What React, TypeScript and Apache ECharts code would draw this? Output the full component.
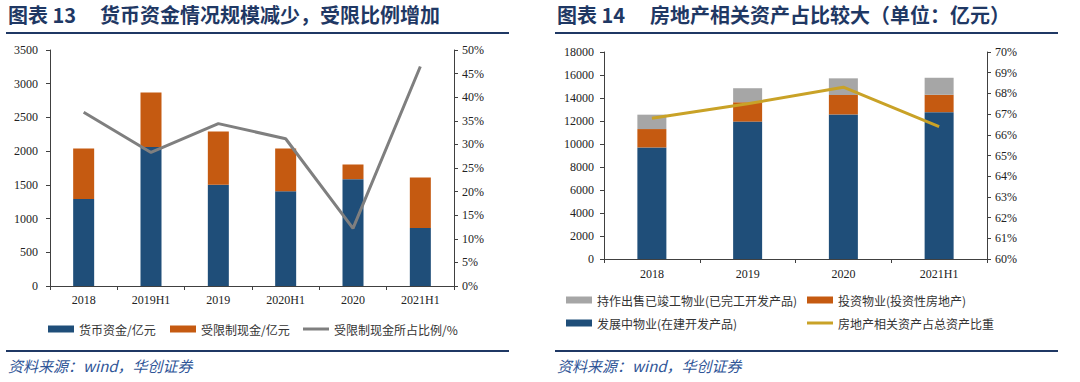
import React, { useEffect, useRef } from "react";
import * as echarts from "echarts";

const leftCategories = ["2018", "2019H1", "2019", "2020H1", "2020", "2021H1"];
const cashFunds = [1290, 2060, 1500, 1405, 1585, 860];
const restrictedCash = [750, 810, 790, 635, 217, 749];
const restrictedRatio = [36.8, 28.3, 34.4, 31.2, 12.2, 46.5];

const rightCategories = ["2018", "2019", "2020", "2021H1"];
const underDevelopment = [9700, 11950, 12570, 12770];
const investmentProperty = [1600, 1680, 1690, 1510];
const completedForSale = [1250, 1220, 1450, 1480];
const realEstateShare = [66.8, 67.5, 68.3, 66.4];

const BLUE = "#1F4E79";
const ORANGE = "#C55A11";
const GREY = "#A6A6A6";
const LINE_GREY = "#7F7F7F";
const GOLD = "#C9A227";
const NAVY = "#1F3864";

const serif = "'Liberation Serif', 'Times New Roman', serif";
const cjk = "'Noto Sans CJK SC', 'Liberation Serif', serif";

export default function App() {
  const ref = useRef<HTMLDivElement>(null);
  useEffect(() => {
    if (!ref.current) return;
    const chart = echarts.init(ref.current, undefined, { renderer: "svg" });
    const axisLine = { show: true, lineStyle: { color: "#404040", width: 1 } };
    const axisTick = { show: true, length: 4, lineStyle: { color: "#404040" } };
    const axisLabel = { color: "#222", fontFamily: serif, fontSize: 12 };
    const plain = (v: number) => String(v);
    const legendText = { color: "#333", fontFamily: cjk, fontSize: 12 };
    const mkLegend = (name: string, left: number, top: number, isLine = false) => ({
      data: [name],
      left,
      top,
      orient: "horizontal",
      itemWidth: 26,
      itemHeight: isLine ? 3 : 7,
      itemGap: 5,
      icon: "rect",
      textStyle: legendText,
      padding: 0,
    });
    chart.setOption({
      animation: false,
      grid: [
        { left: 50, right: 626, top: 50, bottom: 96 },
        { left: 604, right: 93, top: 52, bottom: 123 },
      ],
      xAxis: [
        {
          type: "category",
          gridIndex: 0,
          data: leftCategories,
          axisLine,
          axisTick,
          axisLabel: { ...axisLabel, margin: 8 },
        },
        {
          type: "category",
          gridIndex: 1,
          data: rightCategories,
          axisLine,
          axisTick,
          axisLabel: { ...axisLabel, margin: 9 },
        },
      ],
      yAxis: [
        {
          type: "value",
          gridIndex: 0,
          min: 0,
          max: 3500,
          interval: 500,
          axisLine,
          axisTick,
          axisLabel: { ...axisLabel, margin: 12, formatter: plain },
          splitLine: { show: false },
        },
        {
          type: "value",
          gridIndex: 0,
          position: "right",
          min: 0,
          max: 50,
          interval: 5,
          axisLine,
          axisTick,
          axisLabel: { ...axisLabel, margin: 8, formatter: "{value}%" },
          splitLine: { show: false },
        },
        {
          type: "value",
          gridIndex: 1,
          min: 0,
          max: 18000,
          interval: 2000,
          axisLine,
          axisTick,
          axisLabel: { ...axisLabel, margin: 10, formatter: plain },
          splitLine: { show: false },
        },
        {
          type: "value",
          gridIndex: 1,
          position: "right",
          min: 60,
          max: 70,
          interval: 1,
          axisLine,
          axisTick,
          axisLabel: { ...axisLabel, margin: 8, formatter: "{value}%" },
          splitLine: { show: false },
        },
      ],
      legend: [
        mkLegend("货币资金/亿元", 48, 323),
        mkLegend("受限制现金/亿元", 170, 323),
        mkLegend("受限制现金所占比例/%", 303, 323, true),
        mkLegend("持作出售已竣工物业(已完工开发产品)", 566, 294),
        mkLegend("投资物业(投资性房地产)", 807, 294),
        mkLegend("发展中物业(在建开发产品)", 566, 317),
        mkLegend("房地产相关资产占总资产比重", 807, 317, true),
      ],
      series: [
        {
          name: "货币资金/亿元",
          type: "bar",
          xAxisIndex: 0,
          yAxisIndex: 0,
          stack: "l",
          barWidth: 21,
          data: cashFunds,
          itemStyle: { color: BLUE },
        },
        {
          name: "受限制现金/亿元",
          type: "bar",
          xAxisIndex: 0,
          yAxisIndex: 0,
          stack: "l",
          barWidth: 21,
          data: restrictedCash,
          itemStyle: { color: ORANGE },
        },
        {
          name: "受限制现金所占比例/%",
          type: "line",
          xAxisIndex: 0,
          yAxisIndex: 1,
          data: restrictedRatio,
          symbol: "none",
          lineStyle: { color: LINE_GREY, width: 3 },
          itemStyle: { color: LINE_GREY },
          z: 5,
        },
        {
          name: "发展中物业(在建开发产品)",
          type: "bar",
          xAxisIndex: 1,
          yAxisIndex: 2,
          stack: "r",
          barWidth: 29,
          data: underDevelopment,
          itemStyle: { color: BLUE },
        },
        {
          name: "投资物业(投资性房地产)",
          type: "bar",
          xAxisIndex: 1,
          yAxisIndex: 2,
          stack: "r",
          barWidth: 29,
          data: investmentProperty,
          itemStyle: { color: ORANGE },
        },
        {
          name: "持作出售已竣工物业(已完工开发产品)",
          type: "bar",
          xAxisIndex: 1,
          yAxisIndex: 2,
          stack: "r",
          barWidth: 29,
          data: completedForSale,
          itemStyle: { color: GREY },
        },
        {
          name: "房地产相关资产占总资产比重",
          type: "line",
          xAxisIndex: 1,
          yAxisIndex: 3,
          data: realEstateShare,
          symbol: "none",
          lineStyle: { color: GOLD, width: 3 },
          itemStyle: { color: GOLD },
          z: 5,
        },
      ],
      graphic: [
        {
          type: "text",
          left: 8,
          top: 4,
          style: { text: "图表 13", fill: NAVY, font: `bold 20px ${cjk}` },
        },
        {
          type: "text",
          left: 100,
          top: 4,
          style: { text: "货币资金情况规模减少，受限比例增加", fill: NAVY, font: `bold 20px ${cjk}` },
        },
        {
          type: "text",
          left: 557,
          top: 4,
          style: { text: "图表 14", fill: NAVY, font: `bold 20px ${cjk}` },
        },
        {
          type: "text",
          left: 650,
          top: 4,
          style: { text: "房地产相关资产占比较大（单位：亿元）", fill: NAVY, font: `bold 20px ${cjk}` },
        },
        { type: "line", shape: { x1: 6, y1: 33, x2: 509, y2: 33 }, style: { stroke: NAVY, lineWidth: 2 } },
        { type: "line", shape: { x1: 555, y1: 33, x2: 1058, y2: 33 }, style: { stroke: NAVY, lineWidth: 2 } },
        { type: "line", shape: { x1: 6, y1: 351, x2: 509, y2: 351 }, style: { stroke: NAVY, lineWidth: 2 } },
        { type: "line", shape: { x1: 555, y1: 351, x2: 1058, y2: 351 }, style: { stroke: NAVY, lineWidth: 2 } },
        {
          type: "text",
          left: 8,
          top: 358,
          style: { text: "资料来源：wind，华创证券", fill: "#2F5597", font: `italic 15px ${cjk}` },
        },
        {
          type: "text",
          left: 557,
          top: 358,
          style: { text: "资料来源：wind，华创证券", fill: "#2F5597", font: `italic 15px ${cjk}` },
        },
      ],
    });
    return () => chart.dispose();
  }, []);
  return (
    <div
      ref={ref}
      style={{ position: "absolute", left: 0, top: 0, width: 1080, height: 382, background: "#fff" }}
    />
  );
}
